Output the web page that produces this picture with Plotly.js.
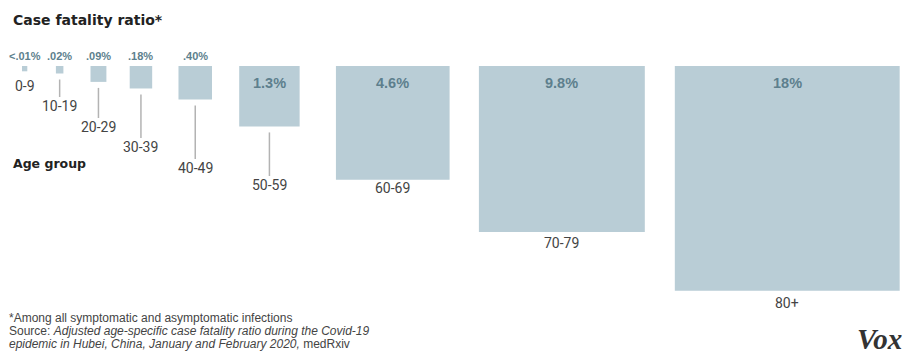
<!DOCTYPE html>
<html>
<head>
<meta charset="utf-8">
<script src="https://cdn.plot.ly/plotly-3.0.1.min.js"></script>
<style>
  html, body { margin: 0; padding: 0; background: #ffffff; }
  #chart { width: 908px; height: 358px; }
</style>
</head>
<body>
<div id="chart"></div>
<script>
// ---- Data ----
const ageGroups = ['0-9', '10-19', '20-29', '30-39', '40-49', '50-59', '60-69', '70-79', '80+'];
const cfrValues = [0.01, 0.02, 0.09, 0.18, 0.40, 1.3, 4.6, 9.8, 18];
const cfrLabels = ['<.01%', '.02%', '.09%', '.18%', '.40%', '1.3%', '4.6%', '9.8%', '18%'];

// ---- Layout parameters (pixel units: 1 axis unit = 1 px) ----
const W = 908, H = 358;
const sidePerSqrt = 53.0;      // square side per sqrt(percent): area ~ value
const topY = 66;
const startX = 22;
const gaps = [28.6, 27.1, 23.3, 26.3, 27.2, 36.3, 29.3, 30.0];
const ageLabelY = [86, 106, 127, 147, 168, 185, 188, 243, 303];

const sides = cfrValues.map(v => sidePerSqrt * Math.sqrt(v));
const lefts = [];
let cur = startX;
sides.forEach((s, i) => { lefts.push(cur); cur += s + (gaps[i] || 0); });
const centers = lefts.map((l, i) => l + sides[i] / 2);

const squares = {
  type: 'bar',
  x: centers,
  y: sides,
  base: sides.map(() => topY),
  width: sides,
  marker: { color: '#b9cdd6', line: { width: 0 } },
  hoverinfo: 'skip'
};

// connector lines from square bottoms to staggered age labels
const lx = [], ly = [];
sides.forEach((s, i) => {
  const bottom = topY + s;
  if (ageLabelY[i] - bottom > 20) {
    lx.push(centers[i], centers[i], null);
    ly.push(bottom + 6, ageLabelY[i] - 9, null);
  }
});
const connectors = {
  type: 'scatter', mode: 'lines', x: lx, y: ly,
  line: { color: '#b3b3b3', width: 1.5 },
  hoverinfo: 'skip'
};

const annotations = [];
sides.forEach((s, i) => {
  const inside = s > 50;
  annotations.push({
    x: centers[i], y: inside ? topY + 17 : 56,
    xref: 'x', yref: 'y', text: '<b>' + cfrLabels[i] + '</b>', showarrow: false,
    xanchor: 'center', yanchor: 'middle',
    font: { family: 'Liberation Sans, Arial, sans-serif', size: inside ? 14.5 : 11, color: '#5d7f8d' }
  });
  annotations.push({
    x: centers[i], y: ageLabelY[i], xref: 'x', yref: 'y', text: ageGroups[i], showarrow: false,
    xanchor: 'center', yanchor: 'middle',
    font: { family: 'Roboto, Arial, sans-serif', size: 14, color: '#444444' }
  });
});

annotations.push({
  x: 11, y: 20, xref: 'x', yref: 'y', text: '<b>Case fatality ratio*</b>', showarrow: false,
  xanchor: 'left', yanchor: 'middle',
  font: { family: 'DejaVu Sans, sans-serif', size: 14, color: '#222222' }
});
annotations.push({
  x: 11, y: 163, xref: 'x', yref: 'y', text: '<b>Age group</b>', showarrow: false,
  xanchor: 'left', yanchor: 'middle',
  font: { family: 'DejaVu Sans, sans-serif', size: 12.5, color: '#222222' }
});
const noteFont = { family: 'Liberation Sans, Arial, sans-serif', size: 12, color: '#444444' };
annotations.push({
  x: 7, y: 318, xref: 'x', yref: 'y', text: '*Among all symptomatic and asymptomatic infections',
  showarrow: false, xanchor: 'left', yanchor: 'middle', font: noteFont
});
annotations.push({
  x: 7, y: 331, xref: 'x', yref: 'y',
  text: 'Source: <i>Adjusted age-specific case fatality ratio during the Covid-19</i>',
  showarrow: false, xanchor: 'left', yanchor: 'middle', font: noteFont
});
annotations.push({
  x: 7, y: 344, xref: 'x', yref: 'y',
  text: '<i>epidemic in Hubei, China, January and February 2020,</i> medRxiv',
  showarrow: false, xanchor: 'left', yanchor: 'middle', font: noteFont
});
annotations.push({
  x: 904, y: 339, xref: 'x', yref: 'y', text: '<b><i>Vox</i></b>', showarrow: false,
  xanchor: 'right', yanchor: 'middle',
  font: { family: 'Liberation Serif, Times New Roman, serif', size: 29, color: '#333333' }
});

const layout = {
  width: W, height: H,
  margin: { l: 0, r: 0, t: 0, b: 0 },
  paper_bgcolor: '#ffffff', plot_bgcolor: '#ffffff',
  showlegend: false,
  xaxis: { range: [0, W], visible: false, fixedrange: true },
  yaxis: { range: [H, 0], visible: false, fixedrange: true },
  annotations: annotations
};

Plotly.newPlot('chart', [squares, connectors], layout, { displayModeBar: false, staticPlot: true });
</script>
</body>
</html>
